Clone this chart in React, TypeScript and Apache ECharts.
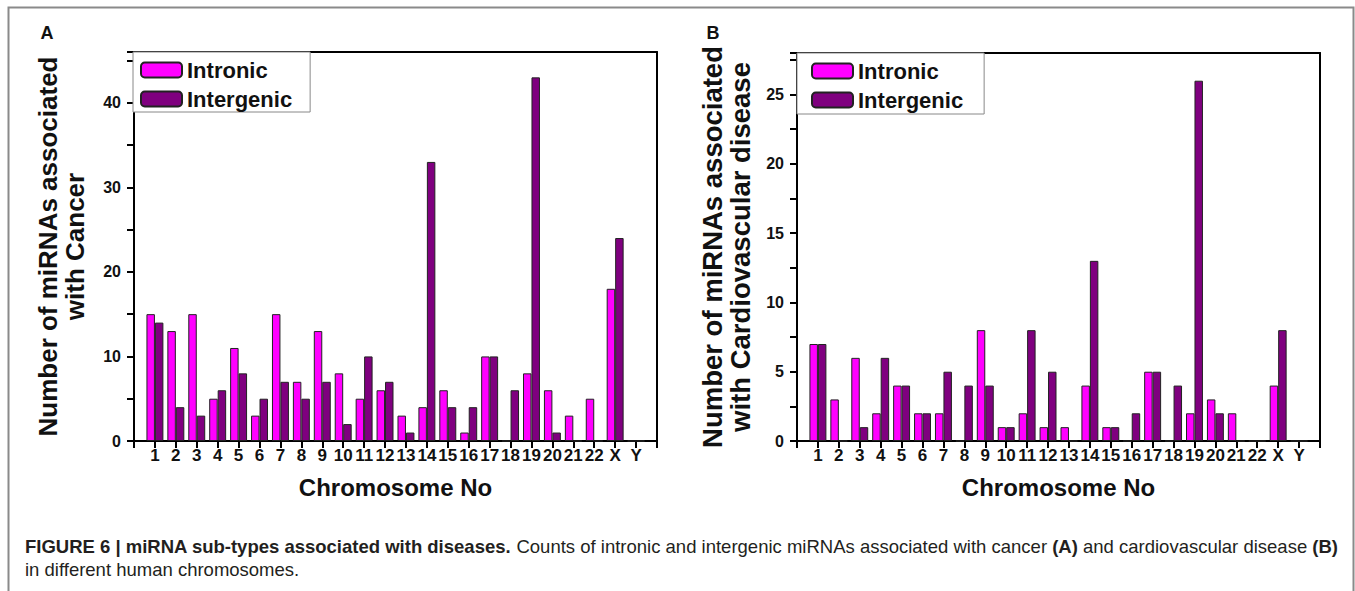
import React, { useEffect, useRef } from "react";
import * as echarts from "echarts";

const chromosomes = ["1","2","3","4","5","6","7","8","9","10","11","12","13","14","15","16","17","18","19","20","21","22","X","Y"];
const cancerIntronic = [15,13,15,5,11,3,15,7,13,8,5,6,3,4,6,1,10,0,8,6,3,5,18,0];
const cancerIntergenic = [14,4,3,6,8,5,7,5,7,2,10,7,1,33,4,4,10,6,43,1,0,0,24,0];
const cardioIntronic = [7,3,6,2,4,2,2,0,8,1,2,1,1,4,1,0,5,0,2,3,2,0,4,0];
const cardioIntergenic = [7,0,1,6,4,2,5,4,4,1,8,5,0,13,1,2,5,4,26,2,0,0,8,0];

const FONT = 'Arial, "Liberation Sans", sans-serif';
const INTRONIC = "#ff00ff";
const INTERGENIC = "#7f007f";
const AXIS = "#000000";

const pad = (arr: number[]) => [null, ...arr, null];
const cats = ["", ...chromosomes, ""];

const lineStyle = (width: number) => ({ color: AXIS, width, opacity: 1, type: "solid" });

function xAxis(gridIndex: number) {
  return {
    type: "category",
    gridIndex,
    position: "bottom",
    data: cats,
    boundaryGap: false,
    axisLine: { show: true, onZero: false, lineStyle: lineStyle(2) },
    axisTick: { show: true, inside: false, length: 7, lineStyle: lineStyle(2), interval: 0 },
    axisLabel: { interval: 0, color: "#111", fontWeight: "bold", fontSize: 17, fontFamily: FONT, margin: 6 },
    name: "Chromosome No",
    nameLocation: "middle",
    nameGap: 34,
    nameTextStyle: { color: "#111", fontWeight: "bold", fontSize: 24, fontFamily: FONT },
    splitLine: { show: false },
  };
}

function xFrame(gridIndex: number) {
  return {
    type: "category",
    gridIndex,
    position: "top",
    data: cats,
    boundaryGap: false,
    axisLine: { show: true, onZero: false, lineStyle: lineStyle(2) },
    axisTick: { show: false },
    axisLabel: { show: false },
    splitLine: { show: false },
  };
}

function yAxis(gridIndex: number, max: number, interval: number, major: number, name: string, nameGap: number, fontSize: number) {
  return {
    type: "value",
    gridIndex,
    position: "left",
    min: 0,
    max,
    interval,
    axisLine: { show: true, onZero: false, lineStyle: lineStyle(2) },
    axisTick: { show: true, inside: false, length: 7, lineStyle: lineStyle(2) },
    axisLabel: {
      color: "#111", fontWeight: "bold", fontSize: 16, fontFamily: FONT, margin: 13,
      formatter: (v: number) => (Math.abs(v / major - Math.round(v / major)) < 1e-6 ? String(v) : ""),
    },
    splitLine: { show: false },
    name,
    nameLocation: "middle",
    nameRotate: 90,
    nameGap,
    nameTextStyle: { color: "#111", fontWeight: "bold", fontSize, fontFamily: FONT, lineHeight: fontSize + 1 },
  };
}

function yFrame(gridIndex: number, max: number) {
  return {
    type: "value",
    gridIndex,
    position: "right",
    min: 0,
    max,
    axisLine: { show: true, onZero: false, lineStyle: lineStyle(2) },
    axisTick: { show: false },
    axisLabel: { show: false },
    splitLine: { show: false },
  };
}

function legend(left: number, top: number, padding: number[]) {
  return {
    left, top,
    orient: "vertical",
    data: ["Intronic", "Intergenic"],
    itemWidth: 41,
    itemHeight: 15,
    itemGap: 7,
    padding,
    borderColor: "#888",
    borderWidth: 1,
    backgroundColor: "#fff",
    selectedMode: false,
    textStyle: { color: "#111", fontWeight: "bold", fontSize: 22, fontFamily: FONT, lineHeight: 22 },
  };
}

function bar(name: string, data: number[], color: string, idx: number) {
  return {
    type: "bar",
    name,
    xAxisIndex: idx,
    yAxisIndex: idx,
    data: pad(data),
    barGap: "0%",
    barCategoryGap: "19%",
    itemStyle: { color, borderColor: "#222", borderWidth: 1 },
  };
}

export default function App() {
  const ref = useRef<HTMLDivElement>(null);
  useEffect(() => {
    if (!ref.current) return;
    const chart = echarts.init(ref.current, undefined, { renderer: "svg" });
    chart.setOption({
      animation: false,
      backgroundColor: "#fff",
      grid: [
        { left: 134, top: 52, width: 523, height: 389 },
        { left: 797, top: 53, width: 523, height: 388 },
      ],
      xAxis: [xAxis(0), xAxis(1), xFrame(0), xFrame(1)],
      yAxis: [
        yAxis(0, 46, 5, 10, "Number of miRNAs associated\nwith Cancer", 46, 26),
        yAxis(1, 28, 2.5, 5, "Number of miRNAs associated\nwith Cardiovascular disease", 42, 27.5),
        yFrame(0, 46),
        yFrame(1, 28),
      ],
      legend: [legend(133, 52, [7, 18, 2, 7]), legend(797, 53, [7, 21, 3, 14])],
      series: [
        bar("Intronic", cancerIntronic, INTRONIC, 0),
        bar("Intergenic", cancerIntergenic, INTERGENIC, 0),
        bar("Intronic", cardioIntronic, INTRONIC, 1),
        bar("Intergenic", cardioIntergenic, INTERGENIC, 1),
      ],
      graphic: [
        { type: "rect", shape: { x: 8.5, y: 7.5, width: 1345, height: 600 }, style: { fill: "rgba(0,0,0,0)", stroke: "#8a8a8a", lineWidth: 2 }, silent: true },
        { type: "text", x: 47, y: 33, style: { text: "A", fontWeight: "bold", fontSize: 18, fontFamily: FONT, fill: "#111", align: "center", verticalAlign: "middle" } },
        { type: "text", x: 713, y: 33, style: { text: "B", fontWeight: "bold", fontSize: 18, fontFamily: FONT, fill: "#111", align: "center", verticalAlign: "middle" } },
        {
          type: "text", x: 25, y: 546,
          style: {
            text: "{b|FIGURE 6 | miRNA sub-types associated with diseases.}{r| Counts of intronic and intergenic miRNAs associated with cancer }{b|(A)}{r| and cardiovascular disease }{b|(B)}",
            verticalAlign: "middle",
            rich: {
              b: { fontWeight: "bold", fontSize: 18.5, fontFamily: FONT, fill: "#231f20" },
              r: { fontSize: 18.5, fontFamily: FONT, fill: "#231f20" },
            },
          },
        },
        { type: "text", x: 25, y: 569, style: { text: "in different human chromosomes.", verticalAlign: "middle", fontSize: 18.5, fontFamily: FONT, fill: "#231f20" } },
      ],
    });
    return () => chart.dispose();
  }, []);
  return <div ref={ref} style={{ position: "fixed", left: 0, top: 0, width: 1355, height: 591 }} />;
}
